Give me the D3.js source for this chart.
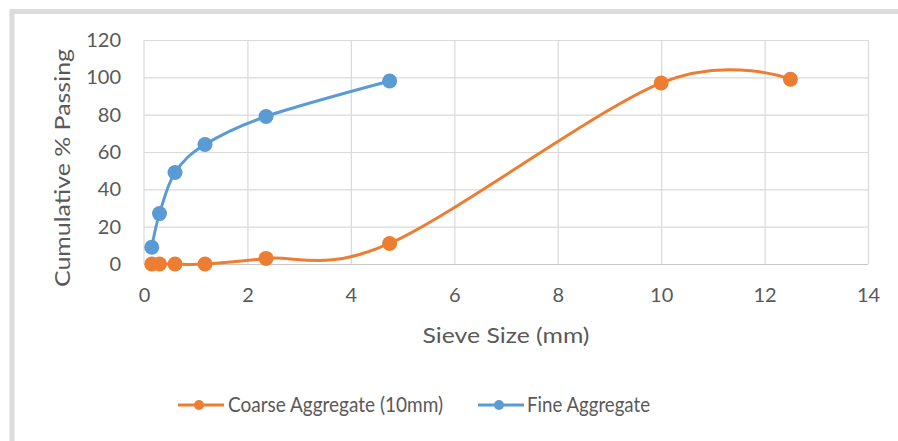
<!DOCTYPE html>
<html>
<head>
<meta charset="utf-8">
<script src="https://cdn.jsdelivr.net/npm/d3@7/dist/d3.min.js"></script>
<style>
  html, body { margin: 0; padding: 0; background: #fff; }
  svg { display: block; }
  text { font-family: Lato, "Open Sans", sans-serif; fill: #595959; }
</style>
</head>
<body>
<svg id="chart" width="898" height="441"></svg>
<script>
// Sieve analysis: cumulative % passing against sieve size
const sieveCoarse = [0.15, 0.3, 0.6, 1.18, 2.36, 4.75, 10, 12.5];
const passCoarse  = [0, 0, 0, 0, 3, 11, 97, 99];
const sieveFine   = [0.15, 0.3, 0.6, 1.18, 2.36, 4.75];
const passFine    = [9, 27, 49, 64, 79, 98];
const xTicks = [0, 2, 4, 6, 8, 10, 12, 14];
const yTicks = [0, 20, 40, 60, 80, 100, 120];
const seriesNames = ["Coarse Aggregate (10mm)", "Fine Aggregate"];
const seriesColors = ["#ED7D31", "#5B9BD5"];

const svg = d3.select("#chart");
const W = 898, H = 441;
const plot = { left: 144, right: 868, top: 40, bottom: 264 };

svg.append("rect").attr("width", W).attr("height", H).attr("fill", "#fff");
// chart frame (continues past the right and bottom edges)
svg.append("rect")
  .attr("x", 12).attr("y", 11.5).attr("width", 920).attr("height", 460)
  .attr("fill", "none").attr("stroke", "#dcdcdc").attr("stroke-width", 5);

const x = d3.scaleLinear().domain([0, 14]).range([plot.left, plot.right]);
const y = d3.scaleLinear().domain([0, 120]).range([plot.bottom, plot.top]);

// axes with full-length ticks used as gridlines
const gx = svg.append("g")
  .attr("transform", `translate(0,${plot.bottom})`)
  .call(d3.axisBottom(x).tickValues(xTicks).tickSize(-(plot.bottom - plot.top)).tickPadding(24));
const gy = svg.append("g")
  .attr("transform", `translate(${plot.left},0)`)
  .call(d3.axisLeft(y).tickValues(yTicks).tickSize(-(plot.right - plot.left)).tickPadding(23));

[gx, gy].forEach(g => {
  g.select(".domain").remove();
  g.selectAll(".tick line").attr("stroke", "#d9d9d9").attr("stroke-width", 1.2);
  g.selectAll(".tick text").attr("font-size", 20).attr("fill", "#595959")
    .style("font-family", "Lato, sans-serif");
});
gx.selectAll(".tick").filter(d => d === 0).select("line").remove();
gy.selectAll(".tick").filter(d => d === 0).select("line").attr("stroke", "#c8c8c8");

// axis titles
svg.append("text")
  .attr("x", 506).attr("y", 343)
  .attr("text-anchor", "middle").attr("font-size", 21)
  .attr("textLength", 167).attr("lengthAdjust", "spacingAndGlyphs")
  .text("Sieve Size (mm)");
svg.append("text")
  .attr("transform", "translate(70,168) rotate(-90)")
  .attr("text-anchor", "middle").attr("font-size", 21)
  .attr("textLength", 238).attr("lengthAdjust", "spacingAndGlyphs")
  .text("Cumulative % Passing");

// left gridline at x = 0
svg.append("line")
  .attr("x1", x(0)).attr("x2", x(0)).attr("y1", plot.top).attr("y2", plot.bottom)
  .attr("stroke", "#d9d9d9").attr("stroke-width", 1.2);

const series = [
  { xs: sieveCoarse, ys: passCoarse },
  { xs: sieveFine, ys: passFine }
];

const line = d3.line()
  .x(d => x(d[0])).y(d => y(d[1]))
  .curve(d3.curveCardinal.tension(0));

series.forEach((s, i) => {
  const pts = s.xs.map((v, j) => [v, s.ys[j]]);
  const g = svg.append("g");
  g.append("path")
    .attr("d", line(pts))
    .attr("fill", "none").attr("stroke", seriesColors[i]).attr("stroke-width", 3)
    .attr("stroke-linejoin", "round").attr("stroke-linecap", "round");
  g.selectAll("circle").data(pts).join("circle")
    .attr("cx", d => x(d[0])).attr("cy", d => y(d[1])).attr("r", 7.5)
    .attr("fill", seriesColors[i]);
});

// legend
const legendItems = [
  { x0: 178, tx: 228, len: 215 },
  { x0: 478, tx: 527, len: 123 }
];
legendItems.forEach((it, i) => {
  const g = svg.append("g");
  g.append("line")
    .attr("x1", it.x0).attr("x2", it.x0 + 46).attr("y1", 405).attr("y2", 405)
    .attr("stroke", seriesColors[i]).attr("stroke-width", 3);
  g.append("circle").attr("cx", it.x0 + 21).attr("cy", 405).attr("r", 5)
    .attr("fill", seriesColors[i]);
  g.append("text")
    .attr("x", it.tx).attr("y", 412).attr("font-size", 21)
    .attr("textLength", it.len).attr("lengthAdjust", "spacingAndGlyphs")
    .text(seriesNames[i]);
});
</script>
</body>
</html>
